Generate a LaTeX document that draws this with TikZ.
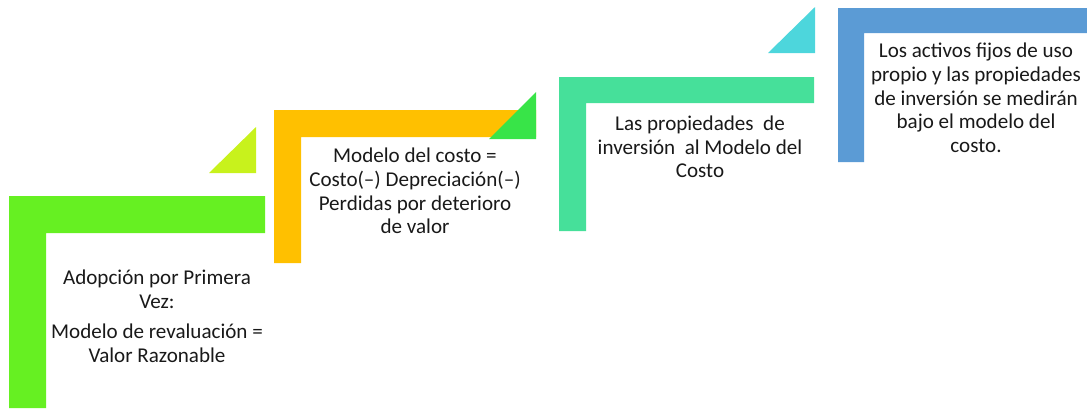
\documentclass[tikz,border=0pt]{standalone}
\usepackage{fontspec}
\setmainfont{Carlito}
\usepackage{xcolor}
\usepackage{tikz}
\usetikzlibrary{positioning}

\definecolor{verdeUno}{HTML}{66F022}
\definecolor{lima}{HTML}{C8F21C}
\definecolor{naranja}{HTML}{FFC000}
\definecolor{verdeDos}{HTML}{38E448}
\definecolor{turquesa}{HTML}{46E09A}
\definecolor{cian}{HTML}{4DD6DC}
\definecolor{azul}{HTML}{5B9BD5}

\begin{document}
\begin{tikzpicture}[x=0.75pt,y=-0.75pt,
  texto/.style={align=center,inner sep=0pt,text=black!90,
    font=\fontsize{15.8}{17.8}\selectfont}]

\useasboundingbox (0,0) rectangle (1087,408);

% Escalon 1
\fill[verdeUno] (9,196) -- (265,196) -- (265,233) -- (46,233) -- (46,408) -- (9,408) -- cycle;
\fill[lima] (209,173) -- (256,173) -- (256,127) -- cycle;

% Escalon 2
\fill[naranja] (274,110) -- (536,110) -- (536,137) -- (301,137) -- (301,263) -- (274,263) -- cycle;
\fill[verdeDos] (489,139) -- (536,139) -- (536,92) -- cycle;

% Escalon 3
\fill[turquesa] (559,77) -- (814,77) -- (814,103) -- (586,103) -- (586,231) -- (559,231) -- cycle;
\fill[cian] (768,53) -- (815,53) -- (815,7) -- cycle;

% Escalon 4
\fill[azul] (838,8) -- (1087,8) -- (1087,33) -- (864,33) -- (864,162) -- (838,162) -- cycle;

% Textos
\node[texto] (adopcion) at (157,316) {Adopción por Primera\\ Vez:\\[5pt]
  Modelo de revaluación =\\ Valor Razonable};
\node[texto] (costo) at (415,191) {Modelo del costo =\\ Costo(--) Depreciación(--)\\
  Perdidas por deterioro\\ de valor};
\node[texto] (inversion) at (700,147) {Las propiedades~ de\\ inversión~ al Modelo del\\ Costo};
\node[texto] (activos) at (976,98) {Los activos fijos de uso\\ propio y las propiedades\\
  de inversión se medirán\\ bajo el modelo del\\ costo.};

\end{tikzpicture}
\end{document}
